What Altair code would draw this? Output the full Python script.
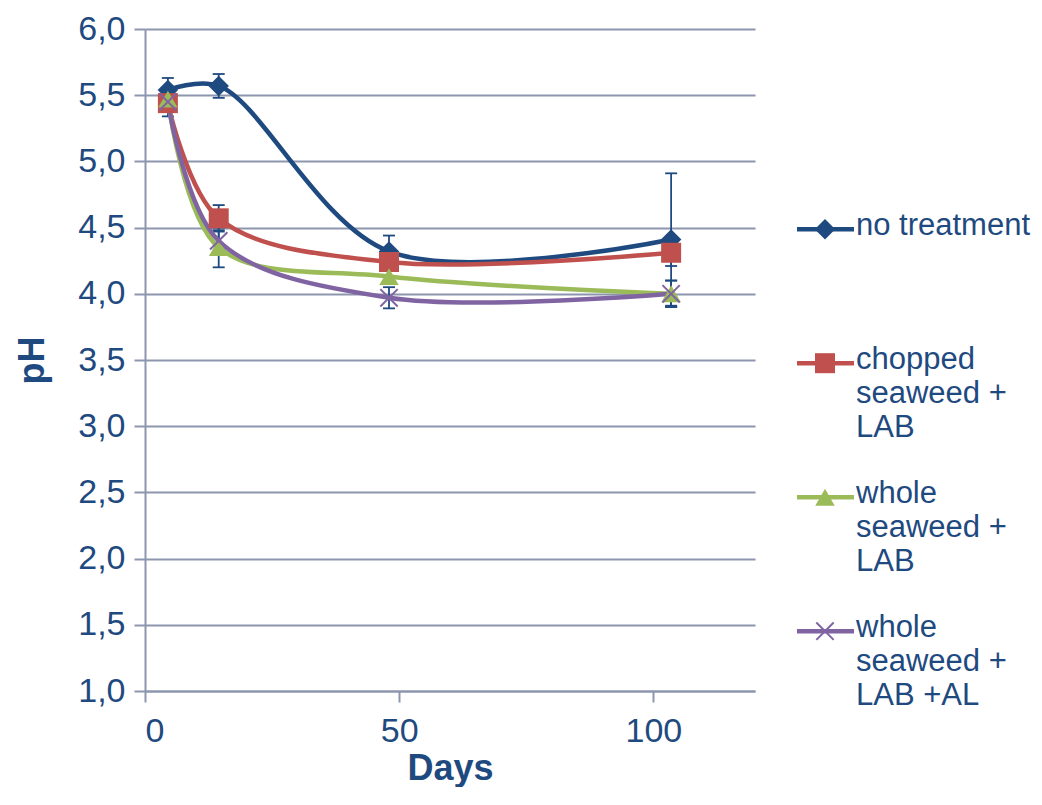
import altair as alt
import pandas as pd

days = [4.5, 14.5, 48, 103.5]
series = ["no treatment", "chopped seaweed + LAB", "whole seaweed + LAB", "whole seaweed + LAB +AL"]
legend_labels = ["no treatment", "chopped\nseaweed +\nLAB", "whole\nseaweed +\nLAB", "whole\nseaweed +\nLAB +AL"]
ph_no = [5.54, 5.57, 4.32, 4.41]
ph_chopped = [5.44, 4.57, 4.24, 4.31]
ph_whole = [5.47, 4.35, 4.13, 4.00]
ph_whole_al = [5.45, 4.40, 3.97, 4.00]
err_no = [0.09, 0.09, 0.12, 0.50]
err_chopped = [0.10, 0.10, 0.06, 0.10]
err_whole = [0.05, 0.15, 0.05, 0.10]
err_whole_al = [0.05, 0.08, 0.08, 0.10]

colors = ["#1F4A80", "#C0504D", "#9BBB59", "#8064A2"]
text_color = "#1F4A80"
grid_color = "#8C96AE"
FONT = "Liberation Sans"

rows = []
for s, vals, errs in zip(series, [ph_no, ph_chopped, ph_whole, ph_whole_al],
                         [err_no, err_chopped, err_whole, err_whole_al]):
    for d, v, e in zip(days, vals, errs):
        rows.append({"series": s, "day": d, "ph": v, "lo": v - e, "hi": v + e})
df = pd.DataFrame(rows)

xs = alt.Scale(domain=[0, 120], nice=False, zero=False)
ys = alt.Scale(domain=[1, 6], nice=False, zero=False)

x_axis = alt.Axis(values=[0, 50, 100], title="Days", grid=False, labelFont=FONT,
                  labelFontSize=34, labelColor=text_color, titleFont=FONT,
                  titleFontSize=36, titleFontWeight="bold", titleColor=text_color,
                  tickSize=11, tickColor=grid_color, tickWidth=2, domainColor=grid_color,
                  domainWidth=2, labelPadding=12, titlePadding=3)
y_axis = alt.Axis(values=[1, 1.5, 2, 2.5, 3, 3.5, 4, 4.5, 5, 5.5, 6], title="pH",
                  labelExpr="replace(format(datum.value, '.1f'), '.', ',')",
                  grid=True, gridColor=grid_color, gridWidth=2, labelFont=FONT,
                  labelFontSize=34, labelColor=text_color, titleFont=FONT,
                  titleFontSize=36, titleFontWeight="bold", titleColor=text_color,
                  tickSize=11, tickColor=grid_color, tickWidth=2, domainColor=grid_color,
                  domainWidth=2, labelPadding=9, titlePadding=26)

color_scale = alt.Scale(domain=series, range=colors)
base = alt.Chart(df)

err_rule = base.mark_rule(color=text_color, strokeWidth=1.8).encode(
    x=alt.X("day:Q", scale=xs, axis=x_axis),
    y=alt.Y("lo:Q", scale=ys, axis=y_axis),
    y2="hi:Q",
)
cap_shape = "M-1,0L1,0"
err_cap_hi = base.mark_point(shape=cap_shape, size=144, strokeWidth=1.8, filled=False,
                             color=text_color, opacity=1).encode(
    x=alt.X("day:Q", scale=xs), y=alt.Y("hi:Q", scale=ys))
err_cap_lo = base.mark_point(shape=cap_shape, size=144, strokeWidth=1.8, filled=False,
                             color=text_color, opacity=1).encode(
    x=alt.X("day:Q", scale=xs), y=alt.Y("lo:Q", scale=ys))

layers = [err_rule, err_cap_hi, err_cap_lo]
for s in series:
    layers.append(
        base.transform_filter(alt.datum.series == s).mark_line(
            interpolate="catmull-rom", strokeWidth=4.5).encode(
            x=alt.X("day:Q", scale=xs), y=alt.Y("ph:Q", scale=ys),
            color=alt.Color("series:N", scale=color_scale, legend=None))
    )

shapes = {
    series[0]: ("diamond", 420, True),
    series[1]: ("square", 400, True),
    series[2]: ("triangle-up", 380, True),
    series[3]: ("M-1,-1L1,1M-1,1L1,-1", 300, False),
}
for s in series:
    shp, sz, filled = shapes[s]
    layers.append(
        base.transform_filter(alt.datum.series == s).mark_point(
            shape=shp, size=sz, filled=filled, opacity=1, strokeWidth=2).encode(
            x=alt.X("day:Q", scale=xs), y=alt.Y("ph:Q", scale=ys),
            color=alt.Color("series:N", scale=color_scale, legend=None))
    )

main = alt.layer(*layers).properties(width=610, height=662, view=alt.ViewConfig(stroke="transparent"))

# legend panel
leg_df = pd.DataFrame({"series": series, "label": legend_labels})
ly = alt.Scale(type="point", domain=series, padding=0.97, align=0.77)
leg_base = alt.Chart(leg_df)
leg_line = leg_base.mark_rule(strokeWidth=4.5).encode(
    x=alt.value(0), x2=alt.value(57),
    y=alt.Y("series:N", scale=ly, axis=None),
    color=alt.Color("series:N", scale=color_scale, legend=None))
leg_layers = [leg_line]
for s in series:
    shp, sz, filled = shapes[s]
    leg_layers.append(
        leg_base.transform_filter(alt.datum.series == s).mark_point(
            shape=shp, size=sz, filled=filled, opacity=1, strokeWidth=2).encode(
            x=alt.value(28), y=alt.Y("series:N", scale=ly, axis=None),
            color=alt.Color("series:N", scale=color_scale, legend=None)))
leg_text = leg_base.mark_text(align="left", baseline="top", dy=-18, lineBreak="\n",
                              lineHeight=34, font=FONT, fontSize=31,
                              color=text_color).encode(
    x=alt.value(59), y=alt.Y("series:N", scale=ly, axis=None), text="label:N")
leg_layers.append(leg_text)
legend_panel = alt.layer(*leg_layers).properties(width=175, height=662, view=alt.ViewConfig(stroke="transparent"))

chart = alt.hconcat(main, legend_panel, spacing=38).properties(
    padding={"left": 6, "top": 3, "right": 0, "bottom": 0}
).configure_view(stroke="transparent", strokeWidth=0).configure(background="white")

chart.save("out.html", embed_options={"renderer": "svg", "actions": False})
